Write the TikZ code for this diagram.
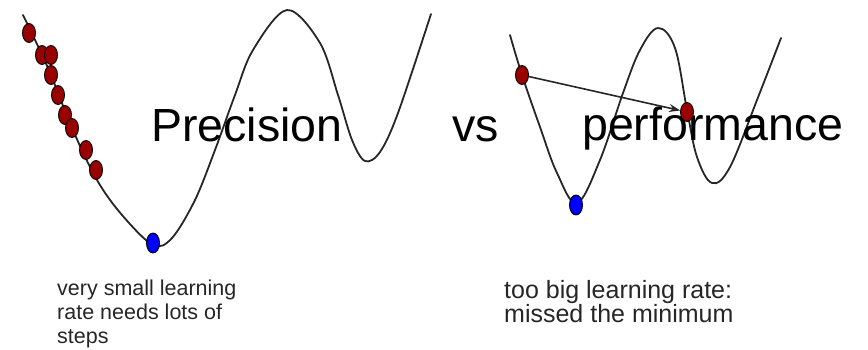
\documentclass[tikz,border=0pt]{standalone}
\usepackage{fontspec}
\setmainfont{Liberation Sans}
\usetikzlibrary{shapes.geometric,arrows.meta}
\begin{document}
\begin{tikzpicture}[x=1pt,y=-1pt,
  curve/.style={line width=1.8pt,draw=black!85,line cap=round},
  reddot/.style={ellipse,draw=black,line width=0.9pt,fill=red!60!black,minimum width=13pt,minimum height=19pt,inner sep=0pt},
  bluedot/.style={ellipse,draw=black,line width=0.9pt,fill=blue,minimum width=13pt,minimum height=20pt,inner sep=0pt},
  bigtext/.style={anchor=base west,inner sep=0pt,font=\fontsize{46.5}{50}\selectfont},
  lefttext/.style={anchor=base west,inner sep=0pt,text=black!85,font=\fontsize{21.5}{24}\selectfont},
  righttext/.style={anchor=base west,inner sep=0pt,text=black!85,font=\fontsize{25}{28}\selectfont},
  jump/.style={line width=1.6pt,draw=black!85,-{Stealth[length=11pt,width=8pt]}}]
\useasboundingbox (0,0) rectangle (868,350);
% left curve
\draw[curve] plot[smooth,tension=0.55] coordinates {(23,15) (48,68) (72,128) (97,180) (122,215) (153,245) (172,238) (195,200) (215,150) (235,95) (253,50) (287,10) (320,43) (338,95) (352,140) (365,161) (380,152) (398,113) (431,14)};
% right curve
\draw[curve] plot[smooth,tension=0.6] coordinates {(510,35) (522,75) (540,127) (557,173) (577,203) (600,160) (623,93) (640,50) (658,28) (675,48) (687,110) (697,157) (712,183) (730,167) (757,100) (781,38)};
% texts
\node[bigtext] (t1) at (151,142) {Precision};
\node[bigtext] (t2) at (452,142) {vs};
\node[bigtext] (t3) at (582,141) {performance};
% left dots
\node[reddot] (a1) at (29,33) {};
\node[reddot] (a2) at (42,55) {};
\node[reddot] (a3) at (51,55) {};
\node[reddot] (a4) at (51,75) {};
\node[reddot] (a5) at (58,95) {};
\node[reddot] (a6) at (65,115) {};
\node[reddot] (a7) at (72,128) {};
\node[reddot] (a8) at (86,150) {};
\node[reddot] (a9) at (96,170) {};
\node[bluedot] (b1) at (153,243) {};
% right dots
\node[reddot] (r1) at (522,75) {};
\node[reddot] (r2) at (687,112) {};
\node[bluedot] (b2) at (576,205) {};
\draw[jump] (r1) -- (r2);
% captions
\node[lefttext] (l1) at (57,295) {very small learning};
\node[lefttext] (l2) at (57,319) {rate needs lots of};
\node[lefttext] (l3) at (57,343) {steps};
\node[righttext] (m1) at (504,298) {too big learning rate:};
\node[righttext] (m2) at (504,322) {missed the minimum};
\end{tikzpicture}
\end{document}
